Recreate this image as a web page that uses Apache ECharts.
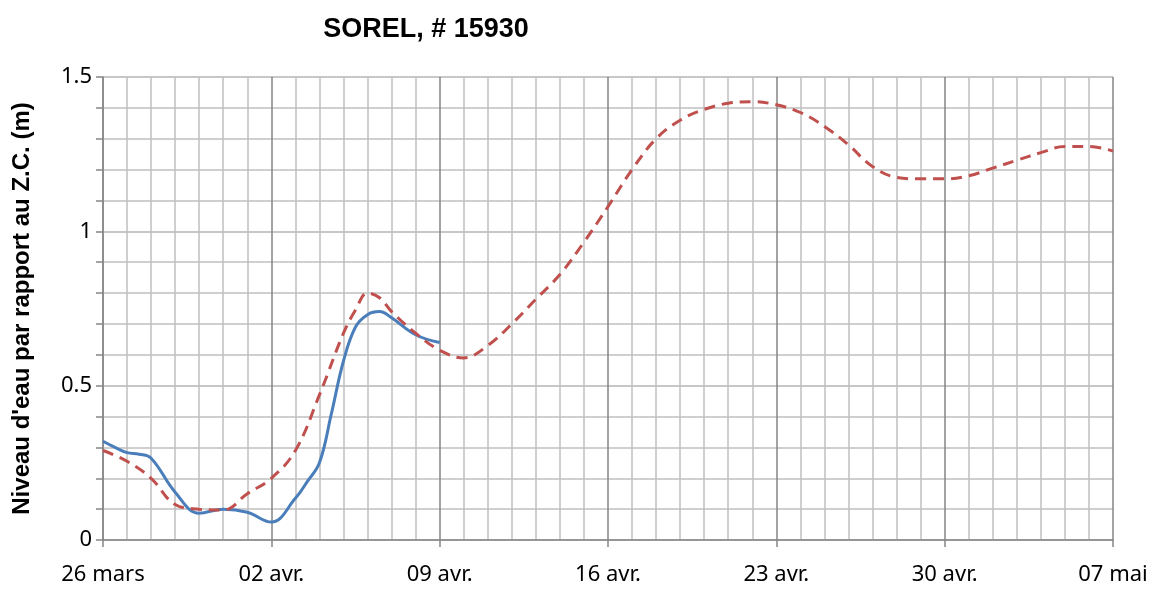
<!DOCTYPE html>
<html>
<head>
<meta charset="utf-8">
<title>SOREL, # 15930</title>
<script src="https://cdn.jsdelivr.net/npm/echarts@6/dist/echarts.min.js"></script>
<style>
  html, body { margin: 0; padding: 0; background: #fff; }
  #chart { width: 1151px; height: 591px; }
</style>
</head>
<body>
<div id="chart"></div>
<script>
// jours comptés depuis le 26 mars
var tickLabels = ['26 mars', '02 avr.', '09 avr.', '16 avr.', '23 avr.', '30 avr.', '07 mai'];

// niveau observé (bleu)
var obsDays  = [0, 0.5, 1, 1.5, 2, 3, 4, 5, 6, 7, 8, 8.5, 9, 9.5, 10, 10.5, 11, 11.5, 12, 13, 14];
var obsLevel = [0.32, 0.30, 0.283, 0.278, 0.265, 0.155, 0.087, 0.10, 0.09, 0.058, 0.135, 0.19, 0.25, 0.41, 0.58, 0.69, 0.73, 0.74, 0.72, 0.665, 0.64];

// prévision (rouge, tirets)
var fcDays  = [0, 1, 2, 3, 4, 5, 6, 7, 8, 9, 10, 10.5, 11, 11.5, 12, 13, 14, 15, 16, 17, 18, 19, 20,
               21, 22, 23, 24, 25, 26, 27, 28, 29, 30, 31, 32, 33, 34, 35, 36, 37, 38, 39, 40, 41, 42];
var fcLevel = [0.29, 0.255, 0.20, 0.115, 0.10, 0.097, 0.15, 0.20, 0.29, 0.47, 0.67, 0.745, 0.80, 0.785, 0.74, 0.67, 0.615, 0.59, 0.63, 0.70, 0.78, 0.86, 0.965,
               1.08, 1.20, 1.30, 1.36, 1.395, 1.415, 1.42, 1.41, 1.385, 1.34, 1.28, 1.21, 1.175, 1.17, 1.17, 1.18, 1.205, 1.23, 1.255, 1.275, 1.275, 1.26];

function pairs(xs, ys) {
  return xs.map(function (x, i) { return [x, ys[i]]; });
}

var myChart = echarts.init(document.getElementById('chart'));

var option = {
  animation: false,
  title: {
    text: 'SOREL, # 15930',
    left: 421,
    top: 11,
    textAlign: 'center',
    textStyle: { fontFamily: 'Liberation Sans', fontWeight: 'bold', fontSize: 27, color: '#000' }
  },
  grid: { left: 103, right: 38, top: 77, bottom: 51, containLabel: false },
  xAxis: {
    type: 'value',
    min: 0,
    max: 42,
    interval: 7,
    axisLine: { show: true, lineStyle: { color: '#878787', width: 1.5 } },
    axisTick: { show: true, length: 7, lineStyle: { color: '#878787', width: 1.5 } },
    axisLabel: {
      margin: 24,
      fontFamily: 'Noto Sans',
      fontSize: 22,
      color: '#000',
      showMaxLabel: true,
      formatter: function (v) { return tickLabels[Math.round(v / 7)]; }
    },
    splitLine: { show: true, lineStyle: { color: '#858585', width: 1.5 } },
    minorTick: { show: false, splitNumber: 7 },
    minorSplitLine: { show: true, lineStyle: { color: '#c0c0c0', width: 1.5 } }
  },
  yAxis: {
    type: 'value',
    min: 0,
    max: 1.5,
    interval: 0.5,
    name: "Niveau d'eau par rapport au Z.C. (m)",
    nameLocation: 'middle',
    nameGap: 69,
    nameRotate: 90,
    nameTextStyle: { fontFamily: 'Liberation Sans', fontWeight: 'bold', fontSize: 24, color: '#000' },
    axisLine: { show: true, lineStyle: { color: '#878787', width: 1.5 } },
    axisTick: { show: true, length: 7, lineStyle: { color: '#878787', width: 1.5 } },
    minorTick: { show: true, splitNumber: 5, length: 7, lineStyle: { color: '#878787', width: 1.5 } },
    axisLabel: {
      margin: 11,
      fontFamily: 'Noto Sans',
      fontSize: 22,
      color: '#000',
      formatter: function (v) { return String(v); }
    },
    splitLine: { show: true, lineStyle: { color: '#b4b4b4', width: 1.5 } },
    minorSplitLine: { show: true, lineStyle: { color: '#c0c0c0', width: 1.5 } }
  },
  series: [
    {
      name: 'Observé',
      type: 'line',
      data: pairs(obsDays, obsLevel),
      smooth: 0.4,
      symbol: 'none',
      lineStyle: { color: '#4a7ebb', width: 3 }
    },
    {
      name: 'Prévision',
      type: 'line',
      data: pairs(fcDays, fcLevel),
      smooth: 0.4,
      symbol: 'none',
      lineStyle: { color: '#c0504d', width: 3, type: [11, 7] }
    }
  ]
};
myChart.setOption(option);
</script>
</body>
</html>
